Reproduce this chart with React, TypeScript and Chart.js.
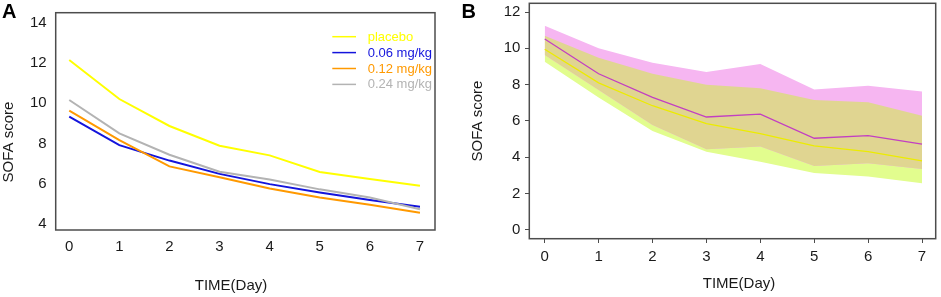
import React, { useEffect, useRef } from "react";
import { Chart, registerables } from "chart.js";

Chart.register(...registerables);

// ---------- data ----------
const DAYS = [0, 1, 2, 3, 4, 5, 6, 7];
const X_TICKS = [0, 1, 2, 3, 4, 5, 6, 7];
const A_Y_TICKS = [4, 6, 8, 10, 12, 14];
const B_Y_TICKS = [0, 2, 4, 6, 8, 10, 12];

const A_SERIES_LABELS = ["placebo", "0.06 mg/kg", "0.12 mg/kg", "0.24 mg/kg"];
const A_PLACEBO = [12.15, 10.21, 8.87, 7.89, 7.41, 6.58, 6.24, 5.9];
const A_DOSE_006 = [9.33, 7.92, 7.15, 6.49, 5.98, 5.56, 5.19, 4.86];
const A_DOSE_012 = [9.63, 8.17, 6.86, 6.32, 5.76, 5.31, 4.95, 4.56];
const A_DOSE_024 = [10.16, 8.5, 7.44, 6.6, 6.21, 5.72, 5.32, 4.73];

const B_MAGENTA_MEAN = [10.51, 8.6, 7.3, 6.22, 6.38, 5.05, 5.19, 4.73];
const B_YELLOW_MEAN = [9.95, 8.1, 6.84, 5.85, 5.3, 4.63, 4.31, 3.81];
const B_MAGENTA_UPPER = [11.24, 10.0, 9.2, 8.7, 9.14, 7.74, 7.94, 7.63];
const B_MAGENTA_LOWER = [9.63, 7.7, 5.78, 4.45, 4.6, 3.52, 3.67, 3.36];
const B_YELLOW_UPPER = [10.69, 9.48, 8.6, 8.0, 7.8, 7.15, 7.03, 6.29];
const B_YELLOW_LOWER = [9.26, 7.3, 5.45, 4.31, 3.76, 3.14, 2.95, 2.57];

const X_TITLE = "TIME(Day)";
const Y_TITLE = "SOFA score";
const PANEL_A = "A";
const PANEL_B = "B";

// ---------- styles ----------
const FONT = '"Liberation Sans", Arial, Helvetica, sans-serif';
const TEXT = "#1a1a1a";
const FRAME = "#4d4d4d";

const pts = (arr: number[]) => DAYS.map((d, i) => ({ x: d, y: arr[i] }));

function framePlugin() {
  return {
    id: "frameBox",
    afterDraw(chart: any) {
      const { ctx, chartArea: a } = chart;
      ctx.save();
      ctx.strokeStyle = FRAME;
      ctx.lineWidth = 1.5;
      ctx.strokeRect(a.left, a.top, a.right - a.left, a.bottom - a.top);
      ctx.restore();
    },
  };
}

function titlesPlugin(xPos: { x: number; y: number }, yPos: { x: number; y: number }) {
  return {
    id: "axisTitles",
    afterDraw(chart: any) {
      const ctx = chart.ctx;
      ctx.save();
      ctx.font = `15px ${FONT}`;
      ctx.fillStyle = TEXT;
      ctx.textAlign = "center";
      ctx.textBaseline = "middle";
      ctx.fillText(X_TITLE, xPos.x, xPos.y);
      ctx.translate(yPos.x, yPos.y);
      ctx.rotate(-Math.PI / 2);
      ctx.fillText(Y_TITLE, 0, 0);
      ctx.restore();
    },
  };
}

const legendPlugin = {
  id: "insideLegend",
  afterDraw(chart: any) {
    const ctx = chart.ctx;
    ctx.save();
    ctx.font = `13px ${FONT}`;
    ctx.textBaseline = "middle";
    ctx.textAlign = "left";
    chart.data.datasets.forEach((ds: any, i: number) => {
      const y = 36.7 + 15.9 * i;
      ctx.strokeStyle = ds.borderColor;
      ctx.lineWidth = 1.5;
      ctx.beginPath();
      ctx.moveTo(332.3, y);
      ctx.lineTo(356, y);
      ctx.stroke();
      ctx.fillStyle = ds.borderColor;
      ctx.fillText(ds.label, 367.7, y + 0.5);
    });
    ctx.restore();
  },
};

function scaleX(min: number, max: number, height: number, tickLen: number, pad: number) {
  return {
    type: "linear",
    min,
    max,
    afterBuildTicks: (s: any) => {
      s.ticks = X_TICKS.map((v) => ({ value: v }));
    },
    afterFit: (s: any) => {
      s.height = height;
      s.paddingLeft = 0;
      s.paddingRight = 0;
    },
    grid: {
      display: tickLen > 0,
      drawOnChartArea: false,
      drawTicks: tickLen > 0,
      tickLength: tickLen,
      color: FRAME,
      lineWidth: 1,
    },
    border: { display: false },
    ticks: {
      autoSkip: false,
      maxRotation: 0,
      padding: pad,
      color: TEXT,
      font: { family: FONT, size: 15 },
    },
  };
}

function scaleY(min: number, max: number, ticks: number[], width: number, tickLen: number, pad: number) {
  return {
    type: "linear",
    min,
    max,
    afterBuildTicks: (s: any) => {
      s.ticks = ticks.map((v) => ({ value: v }));
    },
    afterFit: (s: any) => {
      s.width = width;
      s.paddingTop = 0;
      s.paddingBottom = 0;
    },
    grid: {
      display: tickLen > 0,
      drawOnChartArea: false,
      drawTicks: tickLen > 0,
      tickLength: tickLen,
      color: FRAME,
      lineWidth: 1,
    },
    border: { display: false },
    ticks: {
      autoSkip: false,
      padding: pad,
      color: TEXT,
      font: { family: FONT, size: 15 },
    },
  };
}

function lineDs(label: string, arr: number[], color: string, width: number) {
  return {
    label,
    data: pts(arr),
    borderColor: color,
    backgroundColor: color,
    borderWidth: width,
    pointRadius: 0,
    tension: 0,
    fill: false,
  };
}

function bandDs(label: string, arr: number[], fillTarget: number | false, color: string) {
  return {
    label,
    data: pts(arr),
    borderColor: "rgba(0,0,0,0)",
    backgroundColor: color,
    borderWidth: 0,
    pointRadius: 0,
    tension: 0,
    fill: fillTarget === false ? false : { target: fillTarget },
  };
}

export default function App() {
  const refA = useRef<HTMLCanvasElement>(null);
  const refB = useRef<HTMLCanvasElement>(null);

  useEffect(() => {
    const chartA = new Chart(refA.current as HTMLCanvasElement, {
      type: "line",
      data: {
        datasets: [
          lineDs(A_SERIES_LABELS[0], A_PLACEBO, "#ffff00", 2),
          lineDs(A_SERIES_LABELS[1], A_DOSE_006, "#1414dc", 2),
          lineDs(A_SERIES_LABELS[2], A_DOSE_012, "#ff9900", 2),
          lineDs(A_SERIES_LABELS[3], A_DOSE_024, "#b3b3b3", 2),
        ].reverse() as any,
      },
      options: {
        animation: false,
        responsive: false,
        devicePixelRatio: 1,
        layout: { padding: { left: 0, top: 12.7, right: 35, bottom: 0 } },
        plugins: { legend: { display: false }, tooltip: { enabled: false } },
        scales: {
          x: scaleX(-0.27, 7.3, 67, 0, 7.7) as any,
          y: scaleY(3.7, 14.5, A_Y_TICKS, 55.7, 0, 9) as any,
        },
      },
      plugins: [
        framePlugin(),
        titlesPlugin({ x: 231, y: 286 }, { x: 8.7, y: 142 }),
        {
          id: "insideLegend",
          afterDraw(chart: any) {
            // draw in original series order
            const dsList = [...chart.data.datasets].reverse();
            legendPlugin.afterDraw({ ctx: chart.ctx, data: { datasets: dsList } });
          },
        },
      ] as any,
    });

    const chartB = new Chart(refB.current as HTMLCanvasElement, {
      type: "line",
      data: {
        datasets: [
          lineDs("magenta mean", B_MAGENTA_MEAN, "#c23fc2", 1.3),
          lineDs("yellow mean", B_YELLOW_MEAN, "#ecec00", 1.3),
          bandDs("overlap", B_YELLOW_UPPER, 5, "#e0d591"),
          bandDs("magenta band", B_MAGENTA_UPPER, 5, "#f6b6f1"),
          bandDs("yellow band", B_YELLOW_UPPER, 6, "#e2fd8e"),
          bandDs("magenta lower", B_MAGENTA_LOWER, false, "rgba(0,0,0,0)"),
          bandDs("yellow lower", B_YELLOW_LOWER, false, "rgba(0,0,0,0)"),
        ] as any,
      },
      options: {
        animation: false,
        responsive: false,
        devicePixelRatio: 1,
        layout: { padding: { left: 0, top: 3.3, right: 5.3, bottom: 0 } },
        plugins: { legend: { display: false }, tooltip: { enabled: false } },
        scales: {
          x: scaleX(-0.286, 7.254, 58.3, 4.3, 5) as any,
          y: scaleY(-0.479, 12.479, B_Y_TICKS, 59.3, 4.3, 4.6) as any,
        },
      },
      plugins: [framePlugin(), titlesPlugin({ x: 269, y: 283.5 }, { x: 8.3, y: 121 })] as any,
    });

    return () => {
      chartA.destroy();
      chartB.destroy();
    };
  }, []);

  const letter: React.CSSProperties = {
    position: "absolute",
    fontFamily: FONT,
    fontWeight: "bold",
    fontSize: 20,
    lineHeight: "20px",
    color: "#000",
  };

  return (
    <div style={{ position: "absolute", left: 0, top: 0, width: 941, height: 297, background: "#fff", overflow: "hidden" }}>
      <canvas ref={refA} width={470} height={297} style={{ position: "absolute", left: 0, top: 0 }} />
      <canvas ref={refB} width={471} height={297} style={{ position: "absolute", left: 470, top: 0 }} />
      <div style={{ ...letter, left: 2, top: 0.5 }}>{PANEL_A}</div>
      <div style={{ ...letter, left: 461.5, top: 0.5 }}>{PANEL_B}</div>
    </div>
  );
}
